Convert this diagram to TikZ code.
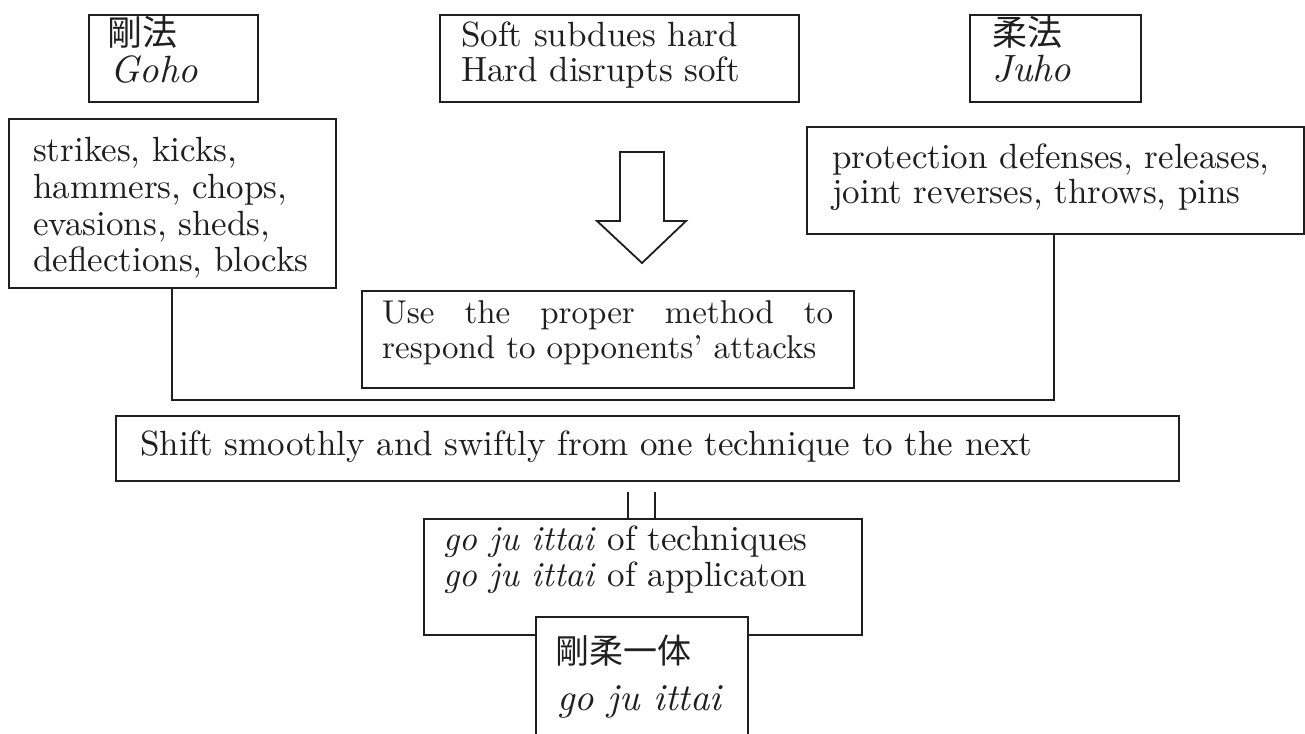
\documentclass[tikz,border=0pt]{standalone}
\usepackage{fontspec}
\setmainfont{lmroman10-regular.otf}[ItalicFont=lmroman10-italic.otf]
\newfontfamily\cjk{Noto Sans CJK JP}
\definecolor{ink}{gray}{0.12}
\newcommand\bodyfont{\fontsize{35}{37}\selectfont}
\newcommand\methodfont{\fontsize{33}{35}\selectfont}
\newcommand\bigit{\fontsize{38}{40}\selectfont\itshape}
\newcommand\kanji{\cjk\fontsize{35}{37}\selectfont}
\newcommand\kanjismall{\cjk\fontsize{34}{36}\selectfont}
\tikzset{
  box/.style={draw=ink, line width=1.8pt, fill=white, inner sep=0pt, anchor=north west},
  txt/.style={inner sep=0pt, anchor=base west, text=ink, font=\bodyfont},
  link/.style={draw=ink, line width=1.8pt},
}
\begin{document}
\begin{tikzpicture}[x=1pt, y=-1pt]
\useasboundingbox (0,0) rectangle (1305,733);
\clip (0,0) rectangle (1305,733);

% top row: hard method, principle, soft method
\node[box, minimum width=169pt, minimum height=87pt] (goho) at (88,14) {};
\node[txt, font=\kanji] (gohok) at (107,46) {剛法};
\node[txt, font=\bigit] (gohor) at (110,83) {Goho};

\node[box, minimum width=359pt, minimum height=87pt] (rule) at (439,14) {};
\node[txt] (rule1) at (461,47) {Soft subdues hard};
\node[txt] (rule2) at (461,82) {Hard disrupts soft};

\node[box, minimum width=171pt, minimum height=87pt] (juho) at (969,14) {};
\node[txt, font=\kanji] (juhok) at (992,46) {柔法};
\node[txt, font=\bigit] (juhor) at (992,82) {Juho};

% technique lists
\node[box, minimum width=327pt, minimum height=169pt] (hard) at (8,118) {};
\node[txt] (hard1) at (33,161) {strikes, kicks,};
\node[txt] (hard2) at (33,198) {hammers, chops,};
\node[txt] (hard3) at (33,235) {evasions, sheds,};
\node[txt] (hard4) at (33,271) {deflections, blocks};

\node[box, minimum width=497pt, minimum height=107pt] (soft) at (806,126) {};
\node[txt] (soft1) at (832,168) {protection defenses, releases,};
\node[txt] (soft2) at (832,203) {joint reverses, throws, pins};

% block arrow
\draw[link, fill=white, line join=miter]
  (620,152) -- (664,152) -- (664,221) -- (686,221) -- (642,263)
  -- (597,221) -- (620,221) -- cycle;

\node[box, minimum width=492pt, minimum height=97pt] (use) at (361,290) {};
\node[txt, font=\methodfont] (use1) at (382,323)
  {\hbox to 451pt{Use\hfill the\hfill proper\hfill method\hfill to}};
\node[txt, font=\methodfont] (use2) at (382,358) {respond to opponents' attacks};

% joining line under both lists
\coordinate (jl) at (172,400);
\coordinate (jr) at (1054,400);
\draw[link] (hard.south -| jl) -- (jl) -- (jr) -- (soft.south -| jr);

\node[box, minimum width=1063pt, minimum height=65pt] (shift) at (115,415) {};
\node[txt] (shift1) at (140,455) {Shift smoothly and swiftly from one technique to the next};

% lower boxes
\node[box, minimum width=438pt, minimum height=116pt] (goju) at (423,518) {};
\node[txt] (goju1) at (443,550) {\textit{go ju ittai} of techniques};
\node[txt] (goju2) at (443,586) {\textit{go ju ittai} of applicaton};

\coordinate (p1) at (628,492);
\coordinate (p2) at (655,492);
\draw[link] (p1) -- (p1 |- goju.north);
\draw[link] (p2) -- (p2 |- goju.north);

\node[box, minimum width=212pt, minimum height=140pt] (ittai) at (535,616) {};
\node[txt, font=\kanjismall] (ittaik) at (555,663) {剛柔一体};
\node[txt, font=\bigit] (ittair) at (557,710) {go ju ittai};
\end{tikzpicture}
\end{document}
